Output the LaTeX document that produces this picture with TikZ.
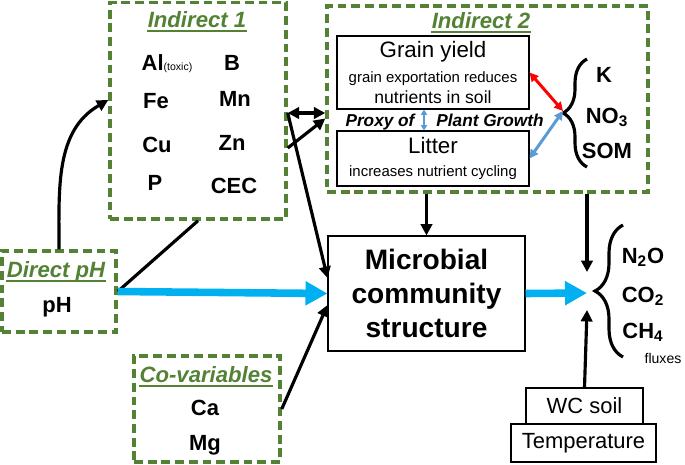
\documentclass[tikz,border=0pt]{standalone}
\usepackage{fontspec}
\setmainfont{Liberation Sans}
\usetikzlibrary{arrows.meta,positioning,decorations.pathreplacing}
\definecolor{cgreen}{HTML}{548235}
\definecolor{csky}{HTML}{00B0F0}
\definecolor{csteel}{HTML}{5B9BD5}
\definecolor{cred}{HTML}{FF0000}
\newcommand{\fsz}[2]{\fontsize{#1}{#2}\selectfont}

\begin{document}
\begin{tikzpicture}[x=0.02cm, y=-0.02cm,
  grp/.style={draw=cgreen, line width=2pt, dash pattern=on 5pt off 2.8pt},
  pbox/.style={draw=black, line width=0.6pt, align=center, inner sep=1pt},
  ttl/.style={text=cgreen, font=\fsz{12.6}{15}\bfseries\itshape, anchor=base, inner xsep=0pt},
  uline/.style={cgreen, line width=1.2pt},
  var/.style={font=\fsz{12.5}{15}\bfseries, anchor=base},
  arr/.style={line width=1.8pt, -{Triangle[length=6.5pt,width=6.5pt]}},
  dbl/.style={line width=1.8pt, {Triangle[length=6.5pt,width=6.5pt]}-{Triangle[length=6.5pt,width=6.5pt]}},
  fat/.style={csky, line width=4.3pt, -{Triangle[length=12.5pt,width=13pt]}},
  brc/.style={decorate, line width=1.8pt, decoration={brace, amplitude=#1}}]
\useasboundingbox (0,0) rectangle (685,464);
%% ------------------------------------------------------------------ groups
\node[grp, minimum width=3.52cm, minimum height=4.33cm] (ind1) at (198,110.75) {};
\node[grp, minimum width=6.42cm, minimum height=3.72cm] (ind2) at (487.5,99) {};
\node[grp, minimum width=2.28cm, minimum height=1.62cm] (dph) at (59,291.5) {};
\node[grp, minimum width=2.92cm, minimum height=2.12cm] (cov) at (207,409) {};
% titles, underlined
\node[ttl] (t1) at (197,27) {Indirect 1};
\node[ttl] (t2) at (481,28) {Indirect 2};
\node[ttl] (t3) at (56,277) {Direct pH};
\node[ttl] (t4) at (206,382) {Co-variables};
\foreach \t in {t1,t2,t3,t4}
  \draw[uline] ([yshift=-2.4pt]\t.base west) -- ([yshift=-2.4pt]\t.base east);
% the soil variables of the first group
\foreach \n/\t/\x/\y in {al/{Al{\fsz{6}{7}\mdseries(toxic)}}/167/70, b/B/232/70,
    fe/Fe/156/108, mn/Mn/235/106, cu/Cu/157/152, zn/Zn/232/150,
    p/P/155/190, cec/CEC/234/193}
  \node[var] (\n) at (\x,\y) {\t};
\node[var] (ph) at (57,312) {pH};
\node[var] (ca) at (205,415) {Ca};
\node[var] (mg) at (205,450) {Mg};
%% ------------------------------------------------------------------ plant growth
\node[pbox, minimum width=3.84cm, minimum height=1.46cm] (grain) at (433,72.5)
  {\fsz{12.7}{15}Grain yield\\[2.5pt]\fsz{8.5}{10.2}grain exportation reduces\\nutrients in soil};
\node[pbox, minimum width=3.84cm, minimum height=1.1cm] (litter) at (433,158.5)
  {\fsz{12.7}{14}Litter\\[1pt]\fsz{8.5}{10}increases nutrient cycling};
\node[font=\fsz{9.8}{12}\bfseries\itshape, anchor=base] (proxy) at (380,126) {Proxy of};
\node[font=\fsz{9.8}{12}\bfseries\itshape, anchor=base] (pgrow) at (490,126) {Plant Growth};
\draw[csteel, line width=0.8pt, {Triangle[length=3pt,width=3.5pt]}-{Triangle[length=3pt,width=3.5pt]}]
  ([xshift=-0.18cm]grain.south) -- ([xshift=-0.18cm]litter.north);
% nutrients
\draw[brc=0.48cm] (587,167) -- (587,59);
\coordinate (b1) at (563,111);
\node[var] (k) at (604,82) {K};
\node[var] (no) at (607,123) {NO\textsubscript{3}};
\node[var] (som) at (607,158) {SOM};
\draw[cred, line width=1.7pt, {Triangle[length=5pt,width=5pt]}-{Triangle[length=5pt,width=5pt]}]
  (grain.east) -- (b1);
\draw[csteel, line width=1.7pt, {Triangle[length=5pt,width=5pt]}-{Triangle[length=5pt,width=5pt]}]
  (litter.east) -- (b1);
%% ------------------------------------------------------------------ community and fluxes
\node[pbox, minimum width=3.94cm, minimum height=2.3cm, font=\fsz{16}{19.5}\bfseries] (mic)
  at (426.5,293.5) {Microbial\\community\\structure};
\node[pbox, minimum width=2.34cm, minimum height=0.72cm, font=\fsz{12.5}{15}] (wc) at (584.5,406) {WC soil};
\node[pbox, minimum width=2.9cm, minimum height=0.76cm, font=\fsz{12.5}{15}] (temp) at (583.5,443) {Temperature};
\draw[brc=0.56cm] (623,357) -- (623,225);
\coordinate (hub) at (587,293);
\node[var] (n2o) at (643,263) {N\textsubscript{2}O};
\node[var] (co2) at (643,302) {CO\textsubscript{2}};
\node[var] (ch4) at (643,338) {CH\textsubscript{4}};
\node[font=\fsz{8}{10}, anchor=base] (flx) at (663,363) {fluxes};
%% ------------------------------------------------------------------ connectors
\coordinate (j1) at ([yshift=-0.045cm]ind1.east);
\draw[arr] (dph.north) to[out=90, in=210] ([yshift=0.215cm]ind1.west);
\draw[line width=1.8pt] (dph.east) -- (ind1.south);
\draw[dbl] (j1) -- (j1 -| ind2.west);
\draw[arr] ([yshift=-0.745cm]ind1.east) -- ([yshift=-0.39cm]ind2.west);
\draw[arr] (j1) -- ([yshift=0.31cm]mic.west);
\draw[arr] (cov.east) -- ([yshift=-0.23cm]mic.west);
\draw[arr] (mic.north |- ind2.south) -- (mic.north);
\draw[fat] (dph.east) -- (mic.west);
\draw[fat] (mic.east) -- (hub);
\draw[arr] (hub |- ind2.south) -- ([yshift=0.42cm]hub);
\draw[arr] (wc.north) -- ([yshift=-0.34cm]hub);
\end{tikzpicture}
\end{document}
